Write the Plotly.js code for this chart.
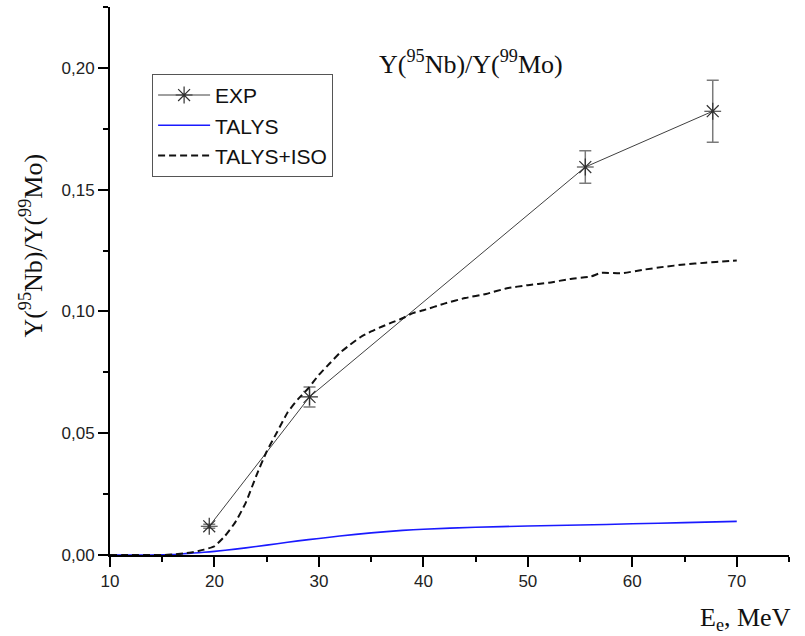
<!DOCTYPE html>
<html>
<head>
<meta charset="utf-8">
<script src="https://cdn.plot.ly/plotly-3.0.1.min.js"></script>
<style>
  html, body { margin: 0; padding: 0; background: #fff; }
  #chart { width: 805px; height: 636px; }
</style>
</head>
<body>
<div id="chart"></div>
<script>
// Experimental yield ratios with uncertainties
const expE = [19.5, 29.1, 55.5, 67.7];
const expRatio = [0.0118, 0.0649, 0.1593, 0.1822];
const expErr = [0.0008, 0.0041, 0.0067, 0.0127];

// TALYS calculation
const talysE = [10, 12, 14, 15, 16, 17, 18, 19, 20, 22, 24, 26, 28, 30, 32, 35, 38, 40, 45, 50, 55, 60, 65, 70];
const talysRatio = [0, 0, 0, 0.0001, 0.0002, 0.0005, 0.0008, 0.0011, 0.0015, 0.0024, 0.0035, 0.0046, 0.0058, 0.0068, 0.0078, 0.0091, 0.0101, 0.0106, 0.0114, 0.0119, 0.0123, 0.0128, 0.0133, 0.0138];

// TALYS + isomer contribution
const isoE = [10, 12, 14, 15, 16, 17, 18, 19, 20, 21, 22, 23, 24, 25, 26, 27, 28, 29, 30, 31, 32, 33, 34, 35, 36, 37, 38, 39, 40, 42, 44, 46, 48, 50, 52, 54, 56, 57, 59, 61, 63, 65, 67, 68, 70];
const isoRatio = [0, 0, 0, 0, 0.0002, 0.0006, 0.0012, 0.0022, 0.0036, 0.0078, 0.0135, 0.0215, 0.0325, 0.0425, 0.0505, 0.0585, 0.064, 0.0685, 0.074, 0.0785, 0.083, 0.0864, 0.0895, 0.0918, 0.0937, 0.0955, 0.0972, 0.0993, 0.1005, 0.1032, 0.1055, 0.1072, 0.1095, 0.1108, 0.1118, 0.1133, 0.1143, 0.1158, 0.1157, 0.1171, 0.1183, 0.1193, 0.12, 0.1203, 0.1209];

const seriesNames = ['EXP', 'TALYS', 'TALYS+ISO'];
const ratioLabel = 'Y(<sup>95</sup>Nb)/Y(<sup>99</sup>Mo)';

const sans = 'Liberation Sans, Arial, sans-serif';
const serif = 'Liberation Serif, Times New Roman, serif';

const traces = [
  {
    x: expE, y: expRatio, name: seriesNames[0], type: 'scatter', mode: 'lines+markers',
    line: { color: '#404040', width: 1 },
    marker: { symbol: 'asterisk-open', size: 14, color: '#303030', line: { color: '#303030', width: 1.2 } },
    error_y: { type: 'data', array: expErr, visible: true, color: '#7a7a7a', thickness: 1.5, width: 6 }
  },
  {
    x: talysE, y: talysRatio, name: seriesNames[1], type: 'scatter', mode: 'lines',
    line: { color: '#1a1aff', width: 1.6, shape: 'spline', smoothing: 0.6 }
  },
  {
    x: isoE, y: isoRatio, name: seriesNames[2], type: 'scatter', mode: 'lines',
    line: { color: '#111', width: 2, dash: '7px,4px', shape: 'spline', smoothing: 0.5 }
  }
];

const layout = {
  width: 805, height: 636,
  margin: { l: 110, r: 16, t: 7, b: 81 },
  paper_bgcolor: '#fff', plot_bgcolor: '#fff',
  separators: ', ',
  showlegend: true,
  legend: {
    x: 0.062, y: 0.878, xanchor: 'left', yanchor: 'top',
    bgcolor: '#fff', bordercolor: '#555', borderwidth: 1,
    font: { family: sans, size: 21, color: '#111' },
    tracegroupgap: 0, itemwidth: 52
  },
  xaxis: {
    range: [10, 75], tick0: 10, dtick: 10,
    showgrid: false, zeroline: false,
    showline: true, linecolor: '#000', linewidth: 2,
    ticks: 'outside', ticklen: 10, tickwidth: 2, tickcolor: '#000',
    minor: { dtick: 5, ticks: 'outside', ticklen: 5, tickwidth: 2, tickcolor: '#000', showgrid: false },
    tickfont: { family: sans, size: 17, color: '#222' }
  },
  yaxis: {
    range: [0, 0.225], tick0: 0, dtick: 0.05, tickformat: '.2f',
    showgrid: false, zeroline: false,
    showline: true, linecolor: '#000', linewidth: 2,
    ticks: 'outside', ticklen: 10, tickwidth: 2, tickcolor: '#000',
    minor: { dtick: 0.025, ticks: 'outside', ticklen: 5, tickwidth: 2, tickcolor: '#000', showgrid: false },
    tickfont: { family: sans, size: 17, color: '#222' }
  },
  annotations: [
    { text: ratioLabel, xref: 'paper', yref: 'paper', x: -0.116, y: 0.565,
      xanchor: 'center', yanchor: 'middle', textangle: -90, showarrow: false,
      font: { family: serif, size: 26, color: '#111' } },
    { text: ratioLabel, xref: 'paper', yref: 'paper', x: 0.531, y: 0.898,
      xanchor: 'center', yanchor: 'middle', showarrow: false,
      font: { family: serif, size: 26, color: '#111' } },
    { text: 'E<sub>e</sub>, MeV', xref: 'paper', yref: 'paper', x: 1.006, y: -0.116,
      xanchor: 'right', yanchor: 'middle', showarrow: false,
      font: { family: serif, size: 26, color: '#111' } }
  ]
};

Plotly.newPlot('chart', traces, layout, { displayModeBar: false, staticPlot: true });
</script>
</body>
</html>
